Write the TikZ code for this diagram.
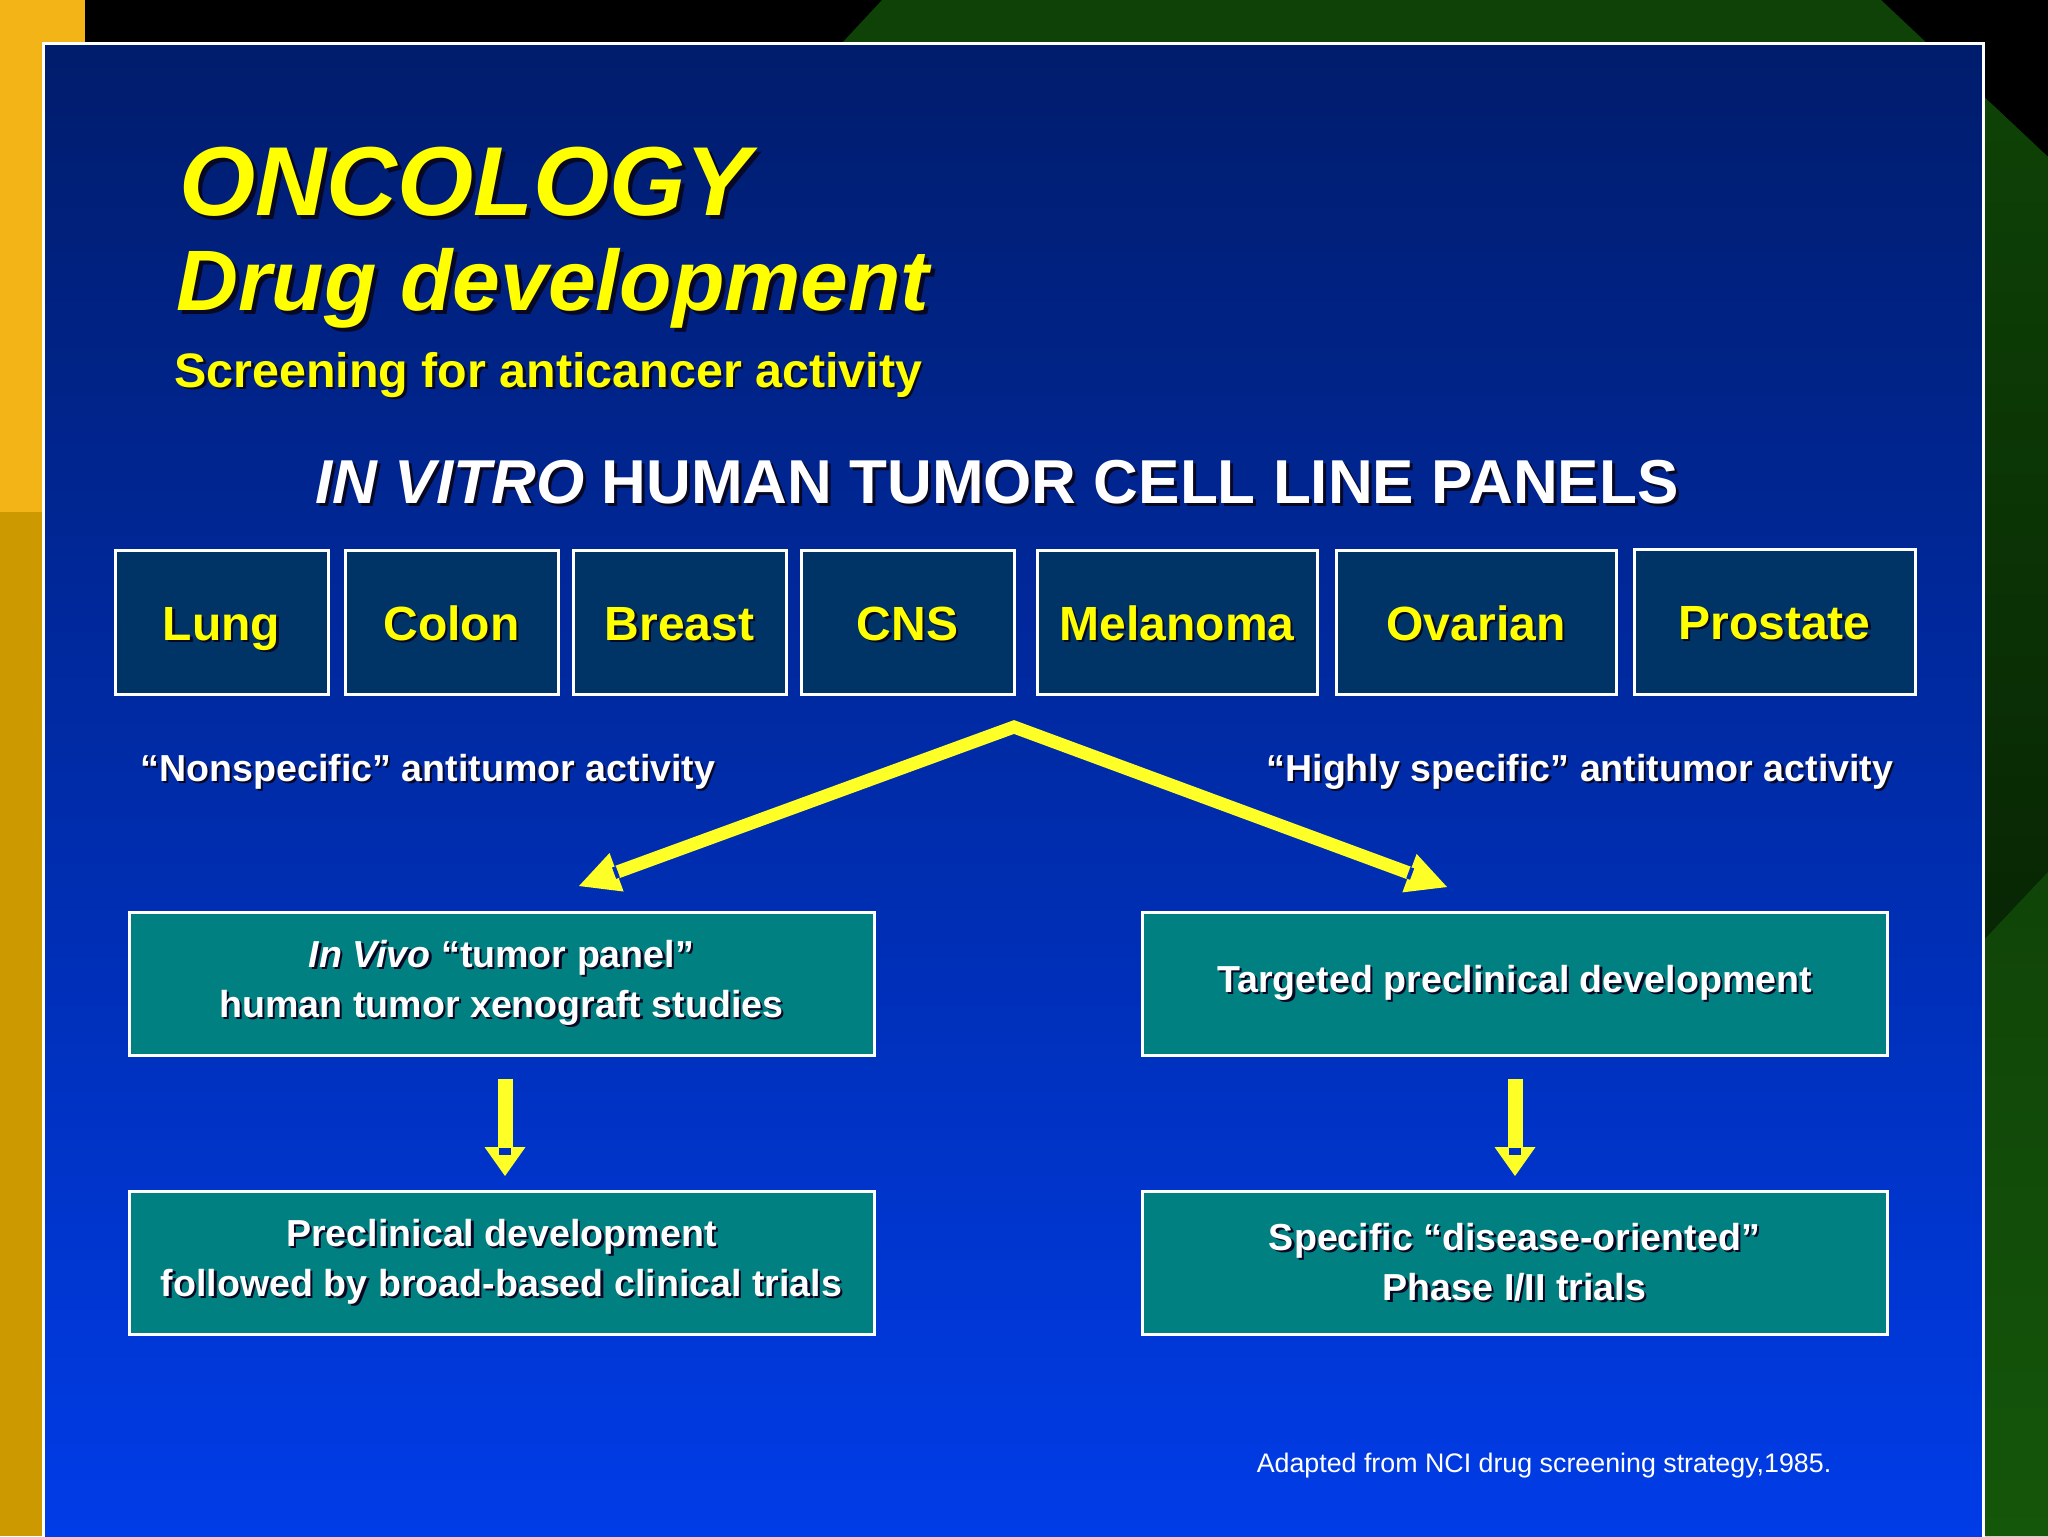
\documentclass[tikz,border=0pt]{standalone}
\usepackage{fontspec}
\setmainfont{Liberation Sans}
\usetikzlibrary{arrows.meta}
\definecolor{ttl}{RGB}{255,255,0}
\definecolor{shadowc}{RGB}{8,8,36}
\definecolor{cellfill}{RGB}{0,51,102}
\definecolor{tealc}{RGB}{0,128,128}
\definecolor{pantop}{RGB}{0,28,108}
\definecolor{panmid}{RGB}{0,44,176}
\definecolor{panbot}{RGB}{0,60,232}
\definecolor{ybright}{RGB}{242,180,22}
\definecolor{ydark}{RGB}{204,154,0}
\definecolor{gtop}{RGB}{14,66,6}
\definecolor{gmid}{RGB}{8,38,4}
\definecolor{glow}{RGB}{16,68,8}
\definecolor{glow2}{RGB}{20,86,10}
\definecolor{yarr}{RGB}{255,255,40}
\definecolor{notchc}{RGB}{0,48,190}
\newcommand{\shd}[2][1.1pt]{\leavevmode\rlap{\hspace{#1}\raisebox{-#1}{\color{shadowc}#2}}#2}
\tikzset{
  cellbox/.style={draw=white, line width=1.5pt, fill=cellfill, minimum width=106.5pt,
    minimum height=72pt, inner sep=0pt, text height=22pt, text depth=4pt, text=ttl,
    font=\bfseries\fontsize{24pt}{28pt}\selectfont},
  tealbox/.style={draw=white, line width=1.5pt, fill=tealc, minimum width=372.5pt,
    minimum height=71.5pt, inner sep=0pt, text=white, align=center,
    font=\bfseries\fontsize{18.8pt}{25pt}\selectfont},
  lbl/.style={anchor=base, inner sep=0pt, text=white, font=\bfseries\fontsize{18.8pt}{23pt}\selectfont},
  yarrow/.style={draw=yarr, line width=6.5pt, line join=miter},
  yarrowd/.style={draw=yarr, line width=7.5pt},
  notch/.style={fill=notchc, draw=none, inner sep=0pt, minimum width=2pt, minimum height=6pt},
  notchd/.style={fill=notchc, draw=none, inner sep=0pt, minimum width=6pt, minimum height=3.5pt}
}
\begin{document}
\begin{tikzpicture}[x=0.5pt,y=-0.5pt]
\useasboundingbox (0,0) rectangle (2048,1536);
% background
\fill[black] (0,0) rectangle (2048,1536);
\fill[gtop] (882,0) -- (1881,0) -- (2048,157) -- (2048,1536) -- (43,1536) -- (43,902) -- cycle;
\shade[top color=gtop, bottom color=gmid] (1983,96) -- (2048,157) -- (2048,872) -- (1983,941) -- cycle;
\shade[top color=glow, bottom color=glow2] (1983,941) -- (2048,872) -- (2048,1536) -- (1983,1536) -- cycle;
\fill[ybright] (0,0) rectangle (85,512);
\fill[ydark] (0,512) rectangle (85,1536);
% panel
\shade[top color=pantop, middle color=panmid, bottom color=panbot] (43,44) rectangle (1983,1545);
\draw[white, line width=1.5pt] (43,1545) -- (43,44) -- (1983,44) -- (1983,1545);
% titles
\node[anchor=base west, inner sep=0pt, text=ttl, font=\bfseries\itshape\fontsize{49pt}{55pt}\selectfont] (t1) at (179,215) {\shd[2pt]{ONCOLOGY}};
\node[anchor=base west, inner sep=0pt, text=ttl, font=\bfseries\itshape\fontsize{42.9pt}{48pt}\selectfont] (t2) at (176,310) {\shd[2pt]{Drug development}};
\node[anchor=base west, inner sep=0pt, text=ttl, font=\bfseries\fontsize{24.2pt}{28pt}\selectfont] (t3) at (174,387) {\shd[1.3pt]{Screening for anticancer activity}};
\node[anchor=base, inner sep=0pt, text=white, font=\bfseries\fontsize{31pt}{36pt}\selectfont] (hd) at (997,503) {\shd[1.5pt]{\textit{IN VITRO} HUMAN TUMOR CELL LINE PANELS}};
% cell line boxes
\node[cellbox] (lung) at (221.5,622) {\shd{Lung}};
\node[cellbox] (colon) at (451.5,622) {\shd{Colon}};
\node[cellbox] (breast) at (679.5,622) {\shd{Breast}};
\node[cellbox] (cns) at (907.5,622) {\shd{CNS}};
\node[cellbox, minimum width=140pt] (mel) at (1177,622) {\shd{Melanoma}};
\node[cellbox, minimum width=140pt] (ova) at (1476,622) {\shd{Ovarian}};
\node[cellbox, minimum width=140.5pt, minimum height=72.5pt] (pro) at (1774.5,621.5) {\shd{Prostate}};
% labels
\node[lbl] (ns) at (428,781) {\shd{“Nonspecific” antitumor activity}};
\node[lbl] (hs) at (1580,781) {\shd{“Highly specific” antitumor activity}};
% teal boxes
\node[tealbox] (iv) at (501.5,983.5) {\shd{\textit{In Vivo} “tumor panel”}\\\shd{human tumor xenograft studies}};
\node[tealbox] (tpd) at (1514.5,983.5) {\shd{Targeted preclinical development}};
\node[tealbox] (pre) at (501.5,1263) {\shd{Preclinical development}\\\shd{followed by broad-based clinical trials}};
\node[tealbox] (spec) at (1514.5,1263) {\shd{Specific “disease-oriented”}\\\shd{Phase I/II trials}};
% diagonal arrows
\coordinate (apex) at (1014,727);
\coordinate (ltip) at (579,886);
\coordinate (rtip) at (1447,887);
\draw[yarrow, {Triangle[width=20.5pt,length=20pt,line width=0pt]}-{Triangle[width=20.5pt,length=20pt,line width=0pt]}]
  (ltip) -- node[notch, sloped, pos=0.085]{} (apex) -- node[notch, sloped, pos=0.915]{} (rtip);
% down arrows
\draw[yarrowd, -{Triangle[width=20.5pt,length=14.5pt,line width=0pt]}]
  ([xshift=1.75pt,yshift=-11pt]iv.south) -- node[notchd, pos=0.75]{} ([xshift=1.75pt,yshift=7pt]pre.north);
\draw[yarrowd, -{Triangle[width=20.5pt,length=14.5pt,line width=0pt]}]
  ([xshift=0.25pt,yshift=-11pt]tpd.south) -- node[notchd, pos=0.75]{} ([xshift=0.25pt,yshift=7pt]spec.north);
% source
\node[anchor=base, inner sep=0pt, text=white, font=\fontsize{13.4pt}{16pt}\selectfont] (src) at (1544,1472) {Adapted from NCI drug screening strategy,1985.};
\end{tikzpicture}
\end{document}
